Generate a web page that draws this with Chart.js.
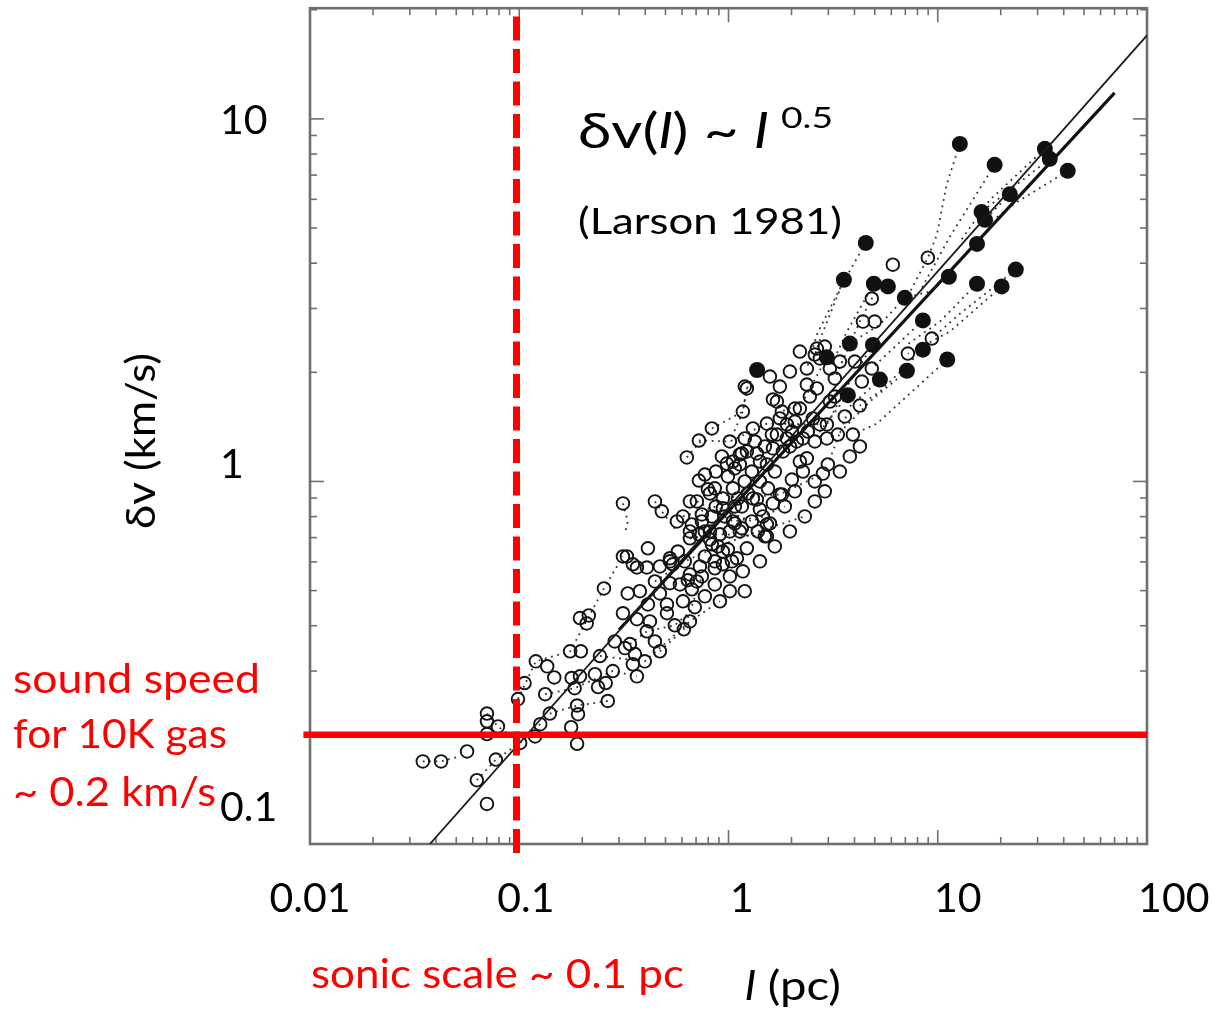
<!DOCTYPE html>
<html><head><meta charset="utf-8">
<script src="https://cdn.jsdelivr.net/npm/chart.js@4.4.1/dist/chart.umd.min.js"></script>
<style>html,body{margin:0;padding:0;background:#fff;}#wrap{width:1213px;height:1014px;position:relative;}</style>
</head><body><div id="wrap"><canvas id="c" width="1213" height="1014"></canvas></div>
<script>
// ---------------- data ----------------
const xTickValues = [0.01, 0.1, 1, 10, 100];
const xTickLabels = ['0.01', '0.1', '1', '10', '100'];
const yTickValues = [0.1, 1, 10];
const yTickLabels = ['0.1', '1', '10'];

// open circles: size l (pc) and line width dv (km/s)
const openL = [0.0346,0.0423,0.0563,0.0627,0.0773,0.0701,0.0701,0.0701,0.0791,0.0701,
0.0986,0.106,0.120,0.136,0.147,0.133,0.140,0.126,0.119,0.101,
0.175,0.197,0.178,0.195,0.184,0.189,0.191,0.177,0.189,0.230,
0.238,0.265,0.259,0.280,0.195,0.215,0.210,0.254,0.313,0.330,
0.313,0.349,0.338,0.357,0.349,0.365,0.320,0.407,0.365,0.470,
0.508,0.508,0.412,0.554,0.612,0.690,0.706,0.639,0.525,0.525,
0.573,0.654,0.313,0.445,0.480,0.412,0.365,0.407,1.015,0.940,
0.860,1.015,1.158,1.097,1.171,1.224,1.133,1.015,1.196,0.940,
1.050,0.940,0.632,0.722,0.833,0.722,0.706,0.771,0.815,0.746,
0.746,0.797,1.072,1.158,1.366,1.526,1.665,1.760,1.631,1.413,
1.461,1.308,1.109,1.158,1.072,1.526,0.910,0.815,0.940,1.038,
1.015,0.654,0.586,0.668,0.746,0.470,0.542,0.654,2.193,2.368,
2.985,2.826,3.33,3.93,1.308,1.612,1.901,2.733,1.526,1.224,
1.171,1.133,1.224,1.050,1.413,1.631,1.901,2.122,2.193,1.703,
2.368,2.585,1.799,1.703,2.395,1.799,1.526,1.366,1.050,1.133,
0.815,0.668,0.327,0.525,0.722,0.833,0.860,6.10,4.84,4.39,
5.00,8.97,9.37,7.20,4.84,4.24,1.631,1.196,2.644,2.733,
3.051,3.222,2.644,2.531,2.952,1.760,2.268,2.008,2.368,2.075,
2.952,1.492,
0.870,0.930,0.993,1.196,1.293,1.413,1.543,1.237,1.072,0.960,
0.870,0.833,0.771,0.890,0.993,1.293,1.381,1.577,1.859,2.008,
2.075,2.268,2.585,1.820,1.492,1.336,1.965,0.982,0.860,0.654,
0.606,0.567,0.618,0.771,0.730,0.470,0.445,0.606,0.771,0.860,
0.377,0.421,0.286,0.243,0.398,0.445,0.654,0.910,1.196,1.413,
1.665,1.965,2.316,2.585,2.886,3.406,3.802,4.244,2.585,2.075,
2.448,3.051,3.597,1.760,1.577,1.965,2.193,2.886,3.406,4.015,
4.337,3.222];
const openDv = [0.169,0.169,0.180,0.150,0.171,0.129,0.229,0.218,0.211,0.201,
0.251,0.278,0.319,0.309,0.288,0.259,0.229,0.214,0.198,0.190,
0.340,0.340,0.287,0.290,0.269,0.241,0.228,0.210,0.189,0.294,
0.271,0.248,0.278,0.300,0.420,0.427,0.406,0.507,0.433,0.491,
0.621,0.591,0.356,0.334,0.313,0.290,0.347,0.386,0.417,0.340,
0.458,0.433,0.458,0.401,0.391,0.450,0.530,0.534,0.524,0.614,
0.641,0.697,0.870,0.881,0.827,0.654,0.579,0.579,0.498,0.591,
0.576,0.728,0.743,0.614,0.565,0.654,1.187,1.289,1.314,0.898,
0.957,0.843,1.165,1.297,1.400,1.006,0.881,1.045,0.927,0.811,
0.776,0.951,1.086,1.195,1.195,1.114,1.065,0.921,0.870,0.837,
0.801,0.898,0.898,0.853,0.766,0.706,0.715,0.692,0.641,0.602,
0.547,0.554,0.520,0.504,0.547,0.491,0.591,0.728,1.135,1.158,
1.114,1.051,1.347,1.347,1.400,1.347,1.436,1.436,1.444,1.805,
1.559,1.114,1.210,1.135,1.135,1.234,1.314,1.289,1.589,1.661,
2.049,2.239,1.559,1.347,1.373,0.921,0.761,0.892,0.776,0.728,
0.728,0.761,0.621,0.602,0.715,0.671,0.602,3.962,3.195,2.760,
2.760,4.142,2.479,2.253,2.049,1.619,1.683,1.827,2.326,2.184,
2.049,1.923,1.805,1.492,1.436,1.492,1.314,1.373,1.851,1.589,
1.314,0.706,
1.065,1.172,1.032,1.000,1.065,1.000,0.957,0.927,0.853,0.801,
0.853,0.801,0.728,0.662,0.650,0.776,0.728,0.766,0.853,1.012,
0.939,1.065,1.000,1.210,1.249,1.289,1.249,1.120,0.957,0.881,
0.801,0.776,0.602,0.621,0.583,0.583,0.530,0.467,0.482,0.520,
0.498,0.411,0.362,0.330,0.319,0.362,0.411,0.467,0.498,0.602,
0.662,0.728,0.801,0.881,0.939,1.065,1.172,1.249,1.289,1.463,
1.715,1.661,1.511,1.827,1.947,2.010,2.282,2.355,2.141,2.141,
1.886,1.715];

// filled circles (whole-cloud values)
const filledL = [12.75,18.7,41.8,32.5,34.3,22.1,16.2,16.8,15.4,4.53,3.56,4.95,5.78,11.3,
15.4,20.2,23.6,6.96,8.49,3.80,4.90,8.49,11.1,2.95,7.12,5.29,3.72,1.37];
const filledDv = [8.53,7.47,7.19,8.27,7.76,6.2,5.54,5.27,4.52,4.55,3.60,3.51,3.45,3.67,
3.51,3.45,3.84,3.21,2.78,2.40,2.38,2.31,2.17,2.20,2.02,1.91,1.73,2.03];

// dotted tracks joining the points of one cloud: [l, dv] vertices
const dottedTracks = [
 [[12.75,8.53],[11.05,6.62],[9.90,4.79],[8.97,4.14],[6.96,3.13]],
 [[18.7,7.47],[11.42,4.73],[8.21,3.34]],
 [[41.8,7.19],[22.85,5.80],[16.78,5.04]],
 [[32.5,8.27],[17.74,5.98],[12.75,4.58]],
 [[22.1,6.2],[16.8,5.27]],
 [[34.3,7.76],[16.2,5.54]],
 [[23.6,3.84],[12.75,2.90],[9.37,2.48]],
 [[20.2,3.45],[11.42,2.59],[7.20,2.25]],
 [[15.4,3.51],[10.23,2.76],[6.96,2.36]],
 [[11.3,3.67],[9.17,3.34],[6.96,3.21]],
 [[11.1,2.17],[5.12,1.444],[3.93,1.347]],
 [[8.49,2.31],[5.29,1.77],[4.24,1.62]],
 [[7.12,2.02],[4.74,1.661],[3.33,1.347]],
 [[5.29,1.91],[3.80,1.609],[2.985,1.114]],
 [[8.49,2.78],[4.84,2.05]],
 [[3.80,2.40],[3.22,1.923]],
 [[4.53,4.55],[3.48,3.49],[2.644,2.542],[2.368,2.049]],
 [[3.56,3.60],[2.794,2.542],[2.585,2.239]],
 [[4.95,3.51],[3.68,2.59],[3.051,2.049]],
 [[5.78,3.45],[4.84,3.195],[4.24,2.76],[3.222,1.923]],
 [[6.96,3.21],[5.29,2.709],[3.80,2.40]],
 [[2.95,2.20],[2.268,1.661],[1.799,1.559]],
 [[3.72,1.73],[2.733,1.373],[2.395,1.373]],
 [[1.37,2.03],[1.224,1.805],[1.171,1.559],[1.015,1.289]],
 [[4.90,2.38],[3.80,1.886],[2.952,1.436]],
 [[0.0346,0.169],[0.0423,0.169],[0.0510,0.174]],
 [[0.0627,0.150],[0.0773,0.171],[0.101,0.190],[0.126,0.214]],
 [[0.0986,0.251],[0.120,0.319],[0.175,0.340],[0.254,0.507],[0.313,0.621]],
 [[0.133,0.259],[0.184,0.269],[0.280,0.300],[0.365,0.290]],
 [[0.140,0.229],[0.189,0.241],[0.265,0.248]],
 [[0.313,0.870],[0.330,0.776],[0.320,0.715]],
 [[0.445,0.881],[0.480,0.827],[0.567,0.728]],
 [[0.632,1.165],[0.833,1.400],[1.171,1.559],[1.224,1.805]],
 [[0.0701,0.229],[0.0791,0.211],[0.101,0.190]],
 [[0.338,0.356],[0.407,0.386],[0.554,0.401],[0.690,0.450]],
 [[0.470,0.340],[0.612,0.391],[0.746,0.547]],
 [[0.722,1.297],[1.015,1.289],[1.526,1.444],[2.733,1.436]],
 [[0.654,0.697],[0.910,0.715],[1.492,0.706]],
 [[0.797,0.951],[1.109,0.898],[1.760,0.921],[2.826,1.051]],
 [[0.706,0.881],[1.050,0.776],[1.461,0.801]],
 [[0.445,0.530],[0.618,0.602],[0.890,0.662],[1.381,0.728],[2.316,0.801]],
 [[0.606,0.801],[0.870,0.853],[1.293,0.776],[1.859,0.853]],
 [[0.243,0.330],[0.398,0.319],[0.654,0.411],[0.910,0.467]]
];

// fitted power laws
const fitThinL = [0.0374, 100];
const fitThinDv = [0.1, 17.0];
const fitThickL = [0.3, 70];
const fitThickDv = [0.39, 11.8];

// overlays
const soundSpeed = 0.2;          // km/s
const soundLineL = [0.0093, 100];
const sonicScale = 0.097;        // pc
const sonicLineDv = [0.0944, 19.7];

// ---------------- chart ----------------
const pts = (xs, ys) => xs.map((x, i) => ({x: x, y: ys[i]}));
const FONT = "Lato, 'Noto Sans', 'DejaVu Sans', sans-serif";

const datasets = [];
datasets.push({data: pts(soundLineL, [soundSpeed, soundSpeed]), showLine: true, borderColor: '#ff0000',
  borderWidth: 6.5, pointRadius: 0, clip: false, order: 0, borderCapStyle: 'butt'});
datasets.push({data: pts([sonicScale, sonicScale], sonicLineDv), showLine: true, borderColor: '#ff0000',
  borderWidth: 7, borderDash: [24, 8.5], pointRadius: 0, clip: false, order: 0, borderCapStyle: 'butt'});
datasets.push({data: pts(fitThinL, fitThinDv), showLine: true, borderColor: '#1a1a1a', borderWidth: 1.8, pointRadius: 0, order: 1});
datasets.push({data: pts(fitThickL, fitThickDv), showLine: true, borderColor: '#111', borderWidth: 3.2, pointRadius: 0, order: 1});
datasets.push({data: pts(filledL, filledDv), showLine: false, pointRadius: 8, pointBackgroundColor: '#111',
  pointBorderColor: '#111', pointBorderWidth: 0, order: 2});
datasets.push({data: pts(openL, openDv), showLine: false, pointRadius: 6.3, pointBackgroundColor: 'rgba(255,255,255,0)',
  pointBorderColor: '#141414', pointBorderWidth: 1.9, order: 3});
dottedTracks.forEach(t => datasets.push({data: t.map(p => ({x: p[0], y: p[1]})), showLine: true,
  borderColor: '#333', borderWidth: 1.8, borderDash: [1.8, 4.6], pointRadius: 0, order: 4}));

const frame = {
  id: 'frame',
  beforeDatasetsDraw(chart) {
    const {ctx, chartArea: a, scales: {x, y}} = chart;
    ctx.save();
    ctx.strokeStyle = '#6f6f6f';
    ctx.lineWidth = 1.6;
    const tick = (x1, y1, x2, y2) => { ctx.beginPath(); ctx.moveTo(x1, y1); ctx.lineTo(x2, y2); ctx.stroke(); };
    for (const d of xTickValues) {
      for (let m = 1; m < 10; m++) {
        const v = d * m; if (v > 100) break;
        const px = x.getPixelForValue(v); const L = m === 1 ? 14 : 7;
        tick(px, a.bottom, px, a.bottom - L); tick(px, a.top, px, a.top + L);
      }
    }
    for (const d of [0.1, 1, 10]) {
      for (let m = 1; m < 10; m++) {
        const v = d * m; if (v > 20.2) break;
        const py = y.getPixelForValue(v); const L = m === 1 ? 14 : 7;
        tick(a.left, py, a.left + L, py); tick(a.right, py, a.right - L, py);
      }
    }
    ctx.lineWidth = 2.6;
    ctx.strokeRect(a.left, a.top, a.right - a.left, a.bottom - a.top);
    ctx.restore();
  }
};

function drawSegs(ctx, segs, x, y, targetW, align) {
  let w = 0;
  for (const s of segs) { ctx.font = s.font; s.w = ctx.measureText(s.t).width; w += s.w; }
  const sx = targetW ? targetW / w : 1;
  ctx.save(); ctx.translate(x, y); ctx.scale(sx, 1);
  ctx.textAlign = 'left'; ctx.textBaseline = 'alphabetic';
  let cx = align === 'center' ? -w / 2 : 0;
  for (const s of segs) { ctx.font = s.font; ctx.fillText(s.t, cx, s.dy || 0); cx += s.w; }
  ctx.restore();
}

const texts = {
  id: 'texts',
  afterDraw(chart) {
    const {ctx, scales: {x, y}} = chart;
    ctx.save();
    ctx.fillStyle = '#000';
    // tick labels
    const x0 = x.getPixelForValue(xTickValues[0]);
    xTickValues.forEach((v, i) => {
      const px = x0 + (x.getPixelForValue(v) - x0) * 1.032;
      drawSegs(ctx, [{t: xTickLabels[i], font: '41px ' + FONT}], px, 912, null, 'center');
    });
    const y0 = y.getPixelForValue(10);
    yTickValues.forEach((v, i) => {
      const py = y0 + (y.getPixelForValue(v) - y0) * 0.948 + 15;
      drawSegs(ctx, [{t: yTickLabels[i], font: '41px ' + FONT}], 220, py, null, 'left');
    });
    // axis titles
    drawSegs(ctx, [{t: 'l', font: 'italic 40px ' + FONT}, {t: ' (pc)', font: '40px ' + FONT}], 745, 1000, 96, 'left');
    ctx.save(); ctx.translate(155, 441); ctx.rotate(-Math.PI / 2);
    drawSegs(ctx, [{t: 'δv (km/s)', font: '40px ' + FONT}], 0, 0, 176, 'center');
    ctx.restore();
    // law annotation
    drawSegs(ctx, [{t: 'δv(', font: '49px ' + FONT}, {t: 'l', font: 'italic 49px ' + FONT},
      {t: ') ~ ', font: '49px ' + FONT}, {t: 'l', font: 'italic 49px ' + FONT}], 578, 148, 190, 'left');
    drawSegs(ctx, [{t: '0.5', font: '29px ' + FONT}], 781, 128, 52, 'left');
    drawSegs(ctx, [{t: '(Larson 1981)', font: '36px ' + FONT}], 578, 234, 264, 'left');
    // red notes
    ctx.fillStyle = '#ff0000';
    drawSegs(ctx, [{t: 'sound speed', font: '41px ' + FONT}], 13, 693, 247, 'left');
    drawSegs(ctx, [{t: 'for 10K gas', font: '41px ' + FONT}], 13, 748, 214, 'left');
    drawSegs(ctx, [{t: '~ 0.2 km/s', font: '41px ' + FONT}], 13, 806, 203, 'left');
    drawSegs(ctx, [{t: 'sonic scale ~ 0.1 pc', font: '41px ' + FONT}], 311, 988, 373, 'left');
    ctx.restore();
  }
};

new Chart(document.getElementById('c'), {
  type: 'scatter',
  data: {datasets: datasets},
  options: {
    responsive: false,
    devicePixelRatio: 1,
    animation: false,
    events: [],
    layout: {padding: {left: 310, right: 66, top: 6, bottom: 170}},
    plugins: {legend: {display: false}, tooltip: {enabled: false}},
    scales: {
      x: {type: 'logarithmic', min: 0.01, max: 100, display: false},
      y: {type: 'logarithmic', min: 0.1, max: 20.2, display: false}
    }
  },
  plugins: [frame, texts]
});
</script></body></html>
